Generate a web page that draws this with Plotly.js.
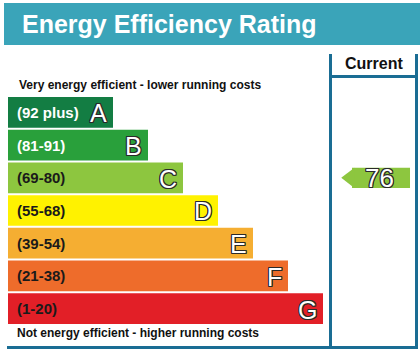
<!DOCTYPE html>
<html>
<head>
<meta charset="utf-8">
<script src="https://cdn.plot.ly/plotly-3.0.1.min.js"></script>
<style>html,body{margin:0;padding:0;background:#fff;}#chart{width:420px;height:355px;}</style>
</head>
<body>
<div id="chart"></div>
<script>
// ---- data ----
const bands = ['A', 'B', 'C', 'D', 'E', 'F', 'G'];
const ranges = ['(92 plus)', '(81-91)', '(69-80)', '(55-68)', '(39-54)', '(21-38)', '(1-20)'];
const rangeMin = [92, 81, 69, 55, 39, 21, 1];
const rangeMax = [100, 91, 80, 68, 54, 38, 20];
const barLength = [3, 4, 5, 6, 7, 8, 9];
const bandColors = ['#137d43', '#29a03b', '#8dc63f', '#fff200', '#f5ae32', '#ee6c2b', '#e21f27'];
const rangeTextColors = ['#ffffff', '#ffffff', '#1a1a1a', '#1a1a1a', '#1a1a1a', '#1a1a1a', '#1a1a1a'];
const currentValue = 76;
const titleText = 'Energy Efficiency Rating';
const topNote = 'Very energy efficient - lower running costs';
const bottomNote = 'Not energy efficient - higher running costs';
const columnHeader = 'Current';

// ---- layout helpers ----
const W = 420, H = 355;
const px = v => v / W;
const py = v => 1 - v / H;
const FONT = 'Liberation Sans, Arial, Helvetica, sans-serif';
const teal = '#3aa4b9';
const lineCol = '#1a6d94';
const outline = '-1px -1px 0 #2a2a2a, 1px -1px 0 #2a2a2a, -1px 1px 0 #2a2a2a, 1px 1px 0 #2a2a2a, 0 1px 0 #2a2a2a, 0 -1px 0 #2a2a2a, 1px 0 0 #2a2a2a, -1px 0 0 #2a2a2a';

const currentIdx = rangeMin.findIndex((m, i) => currentValue >= m && currentValue <= rangeMax[i]);
const currentBand = bands[currentIdx];

const traces = [
  {
    type: 'bar', orientation: 'h',
    y: bands, x: barLength, base: 0,
    width: 0.939,
    marker: {color: bandColors, line: {width: 0}},
    hoverinfo: 'skip', showlegend: false
  },
  {
    type: 'bar', orientation: 'h',
    y: [currentBand], x: [1.657], base: [9.829],
    width: 0.62,
    marker: {color: bandColors[currentIdx], line: {width: 0}},
    hoverinfo: 'skip', showlegend: false
  },
  {
    type: 'scatter', mode: 'markers',
    y: [currentBand], x: [9.771],
    marker: {symbol: 'triangle-left', size: 17.5, color: bandColors[currentIdx], line: {width: 0}},
    hoverinfo: 'skip', showlegend: false
  }
];

const annotations = [];
bands.forEach((b, i) => {
  annotations.push({
    xref: 'x', yref: 'y', x: 0, y: b, xanchor: 'left', yanchor: 'middle', xshift: 7,
    text: ranges[i], showarrow: false,
    font: {family: FONT, size: 15, weight: 700, color: rangeTextColors[i]}
  });
  annotations.push({
    xref: 'x', yref: 'y', x: barLength[i], y: b, xanchor: 'right', yanchor: 'middle', xshift: -4, yshift: -1,
    text: b, showarrow: false,
    font: {family: FONT, size: 25, weight: 400, color: '#ffffff', shadow: outline}
  });
});
annotations.push({
  xref: 'x', yref: 'y', x: 10.614, y: currentBand, xanchor: 'center', yanchor: 'middle',
  text: String(currentValue), showarrow: false,
  font: {family: FONT, size: 26, weight: 400, color: '#ffffff', shadow: outline}
});
annotations.push({
  xref: 'paper', yref: 'paper', x: px(20), y: py(24), xanchor: 'left', yanchor: 'middle',
  text: titleText, showarrow: false,
  font: {family: FONT, size: 25, weight: 700, color: '#ffffff'}
});
annotations.push({
  xref: 'paper', yref: 'paper', x: px(17), y: py(85), xanchor: 'left', yanchor: 'middle',
  text: topNote, showarrow: false,
  font: {family: FONT, size: 12, weight: 700, color: '#111111'}
});
annotations.push({
  xref: 'paper', yref: 'paper', x: px(15), y: py(333), xanchor: 'left', yanchor: 'middle',
  text: bottomNote, showarrow: false,
  font: {family: FONT, size: 12, weight: 700, color: '#111111'}
});
annotations.push({
  xref: 'paper', yref: 'paper', x: px(374), y: py(64), xanchor: 'center', yanchor: 'middle',
  text: columnHeader, showarrow: false,
  font: {family: FONT, size: 16, weight: 700, color: '#111111'}
});

const shapes = [
  {type: 'rect', xref: 'paper', yref: 'paper', x0: px(4), x1: px(420), y0: py(3), y1: py(45), fillcolor: teal, line: {width: 0}, layer: 'below'},
  {type: 'line', xref: 'paper', yref: 'paper', x0: px(330.5), x1: px(330.5), y0: py(54), y1: py(349), line: {color: lineCol, width: 3}},
  {type: 'line', xref: 'paper', yref: 'paper', x0: px(416.5), x1: px(416.5), y0: py(54), y1: py(349), line: {color: lineCol, width: 3}},
  {type: 'line', xref: 'paper', yref: 'paper', x0: px(330.5), x1: px(416.5), y0: py(76.5), y1: py(76.5), line: {color: lineCol, width: 3}},
  {type: 'line', xref: 'paper', yref: 'paper', x0: px(7), x1: px(418), y0: py(347.5), y1: py(347.5), line: {color: lineCol, width: 3}}
];

const layout = {
  width: W, height: H,
  margin: {l: 0, r: 0, t: 0, b: 0, pad: 0},
  paper_bgcolor: '#ffffff', plot_bgcolor: '#ffffff',
  barmode: 'overlay',
  showlegend: false,
  xaxis: {range: [-8 / 35, (W - 8) / 35], visible: false, fixedrange: true},
  yaxis: {type: 'category', categoryorder: 'array', categoryarray: bands, range: [7.418, -3.435], visible: false, fixedrange: true},
  annotations: annotations,
  shapes: shapes
};

Plotly.newPlot('chart', traces, layout, {displayModeBar: false, staticPlot: true});
</script>
</body>
</html>
